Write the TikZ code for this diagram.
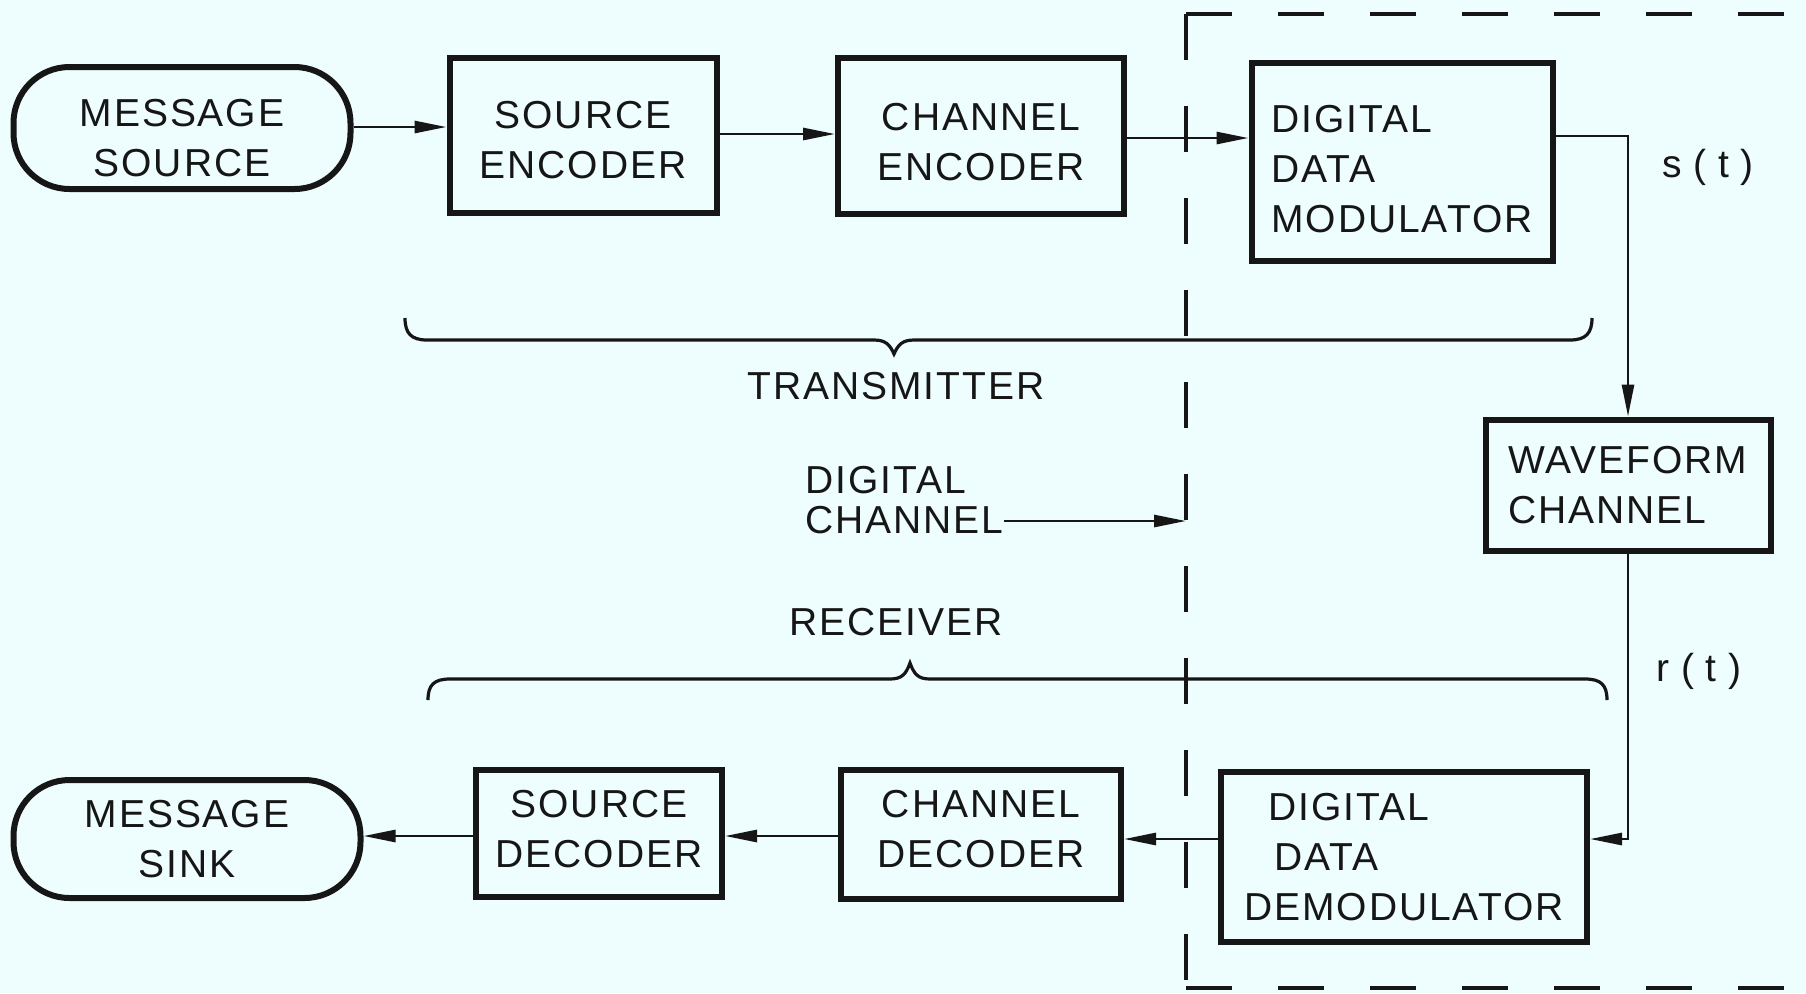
\documentclass[tikz,border=0pt]{standalone}
\usepackage{fontspec}
\setmainfont{Liberation Sans}[LetterSpace=5]
\usetikzlibrary{arrows.meta,calc}
\definecolor{paper}{RGB}{238,253,253}
\definecolor{ink}{RGB}{22,22,22}
\newcommand\txtfont{\fontsize{19.5}{25}\selectfont}
% raises the top of a first line, which lowers the text block in its box
\newcommand\lineroom[1]{\rule{0pt}{#1}}
\tikzset{
  blk/.style={draw=ink, line width=3pt, inner sep=0pt, align=center,
    font=\txtfont, text=ink},
  term/.style={blk, rounded corners=28pt},
  textup/.style={execute at end node={\rule[-#1]{0pt}{#1}}},
  conn/.style={draw=ink, line width=1.4pt},
  arr/.style={conn, -{Triangle[length=16pt,width=6pt]}},
  bracepath/.style={draw=ink, line width=1.6pt},
  frame/.style={draw=ink, line width=1.8pt, dash pattern=on 23pt off 23pt},
  lab/.style={font=\txtfont, text=ink, inner sep=0pt},
  sig/.style={lab, font=\txtfont\addfontfeature{LetterSpace=30}}
}
\begin{document}
\begin{tikzpicture}[x=0.5pt,y=-0.5pt]
  \useasboundingbox (0,0) rectangle (1806,993);
  \fill[paper] (0,0) rectangle (1806,993);

  % transmitter chain
  \node[term, minimum width=168.5pt, minimum height=61pt] (ms) at (182,128) {\lineroom{23.5pt}MESSAGE\\SOURCE};
  \node[blk, minimum width=133.5pt, minimum height=77.5pt] (se) at (583,135) {\lineroom{19pt}SOURCE\\ENCODER};
  \node[blk, minimum width=143pt, minimum height=78pt] (ce) at (981,136) {\lineroom{20pt}CHANNEL\\ENCODER};
  \node[blk, align=left, minimum width=150.5pt, minimum height=99pt] (ddm) at (1402,162) {\lineroom{20.5pt}DIGITAL\\DATA\\MODULATOR};

  % channel
  \node[blk, align=left, minimum width=142.5pt, minimum height=65.5pt] (wc) at (1628,485) {WAVEFORM\\CHANNEL};

  % receiver chain
  \node[blk, align=left, minimum width=183pt, minimum height=85pt] (ddd) at (1404,857)
    {\hspace*{12pt}DIGITAL\\\hspace*{15pt}DATA\\DEMODULATOR};
  \node[blk, textup=5pt, minimum width=140pt, minimum height=64.5pt] (cd) at (981,834) {CHANNEL\\DECODER};
  \node[blk, textup=4pt, minimum width=123pt, minimum height=63.5pt] (sd) at (599,833) {SOURCE\\DECODER};
  \node[term, minimum width=173.5pt, minimum height=59pt] (msk) at (187,839) {MESSAGE\\SINK};

  % signal labels
  \node[sig] (st) at (1708,167) {s(t)};
  \node[sig] (rt) at (1699,671) {r(t)};
  \node[lab] (tx) at (896,386) {TRANSMITTER};
  \node[lab] (rx) at (896,622) {RECEIVER};
  \node[lab, align=left, anchor=west, font=\fontsize{19.5}{20}\selectfont] (dc) at (805,500) {DIGITAL\\CHANNEL};

  % dashed frame of the digital channel
  \coordinate (ftl) at (1186,14);
  \coordinate (fbl) at (1186,988);
  \draw[frame] (ftl) -- (1806,14);
  \draw[frame] (ftl) -- (fbl);
  \draw[frame] (fbl) -- (1806,988);
  \coordinate (dcend) at (1186,521);

  % connectors
  \draw[arr] (ms.east |- 0,127) -- (se.west |- 0,127);
  \draw[arr] (se.east |- 0,134) -- (ce.west |- 0,134);
  \draw[arr] (ce.east |- 0,138) -- (ddm.west |- 0,138);
  \draw[arr] (ddm.east |- 0,136) -| (wc.north);
  \draw[arr] (wc.south) |- (ddd.east |- 0,839);
  \draw[arr] (ddd.west |- 0,839) -- (cd.east |- 0,839);
  \draw[arr] (cd.west |- 0,836) -- (sd.east |- 0,836);
  \draw[arr] (sd.west |- 0,836) -- (msk.east |- 0,836);
  \draw[arr] ([yshift=-10.5pt]dc.east) -- (dcend);

  % braces
  \draw[bracepath] (405,318) .. controls (405,333) and (411,340) .. (427,340)
    -- (874,340) .. controls (886,340) and (890,345) .. (894,354)
    .. controls (898,345) and (902,340) .. (914,340)
    -- (1570,340) .. controls (1586,340) and (1592,333) .. (1592,318);
  \draw[bracepath] (428,700) .. controls (428,685) and (434,679) .. (450,679)
    -- (890,679) .. controls (902,679) and (906,674) .. (910,663)
    .. controls (914,674) and (918,679) .. (930,679)
    -- (1585,679) .. controls (1601,679) and (1607,685) .. (1607,700);
\end{tikzpicture}
\end{document}
